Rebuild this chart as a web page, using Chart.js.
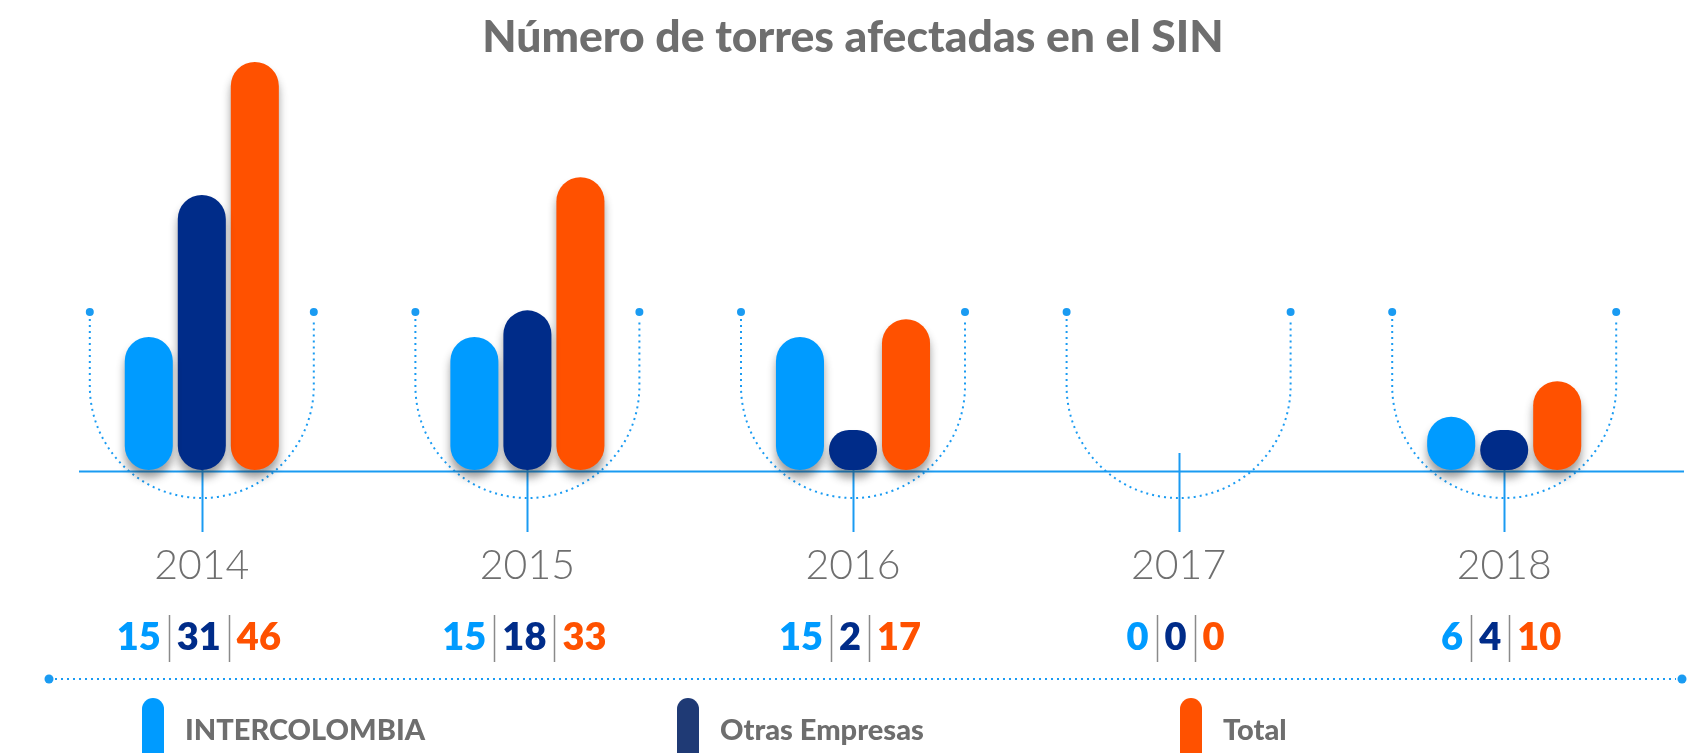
<!DOCTYPE html>
<html>
<head>
<meta charset="utf-8">
<title>Número de torres afectadas en el SIN</title>
<script src="https://cdn.jsdelivr.net/npm/chart.js@4.4.1/dist/chart.umd.min.js"></script>
<style>
  html, body { margin: 0; padding: 0; background: #ffffff; }
  #wrap { width: 1705px; height: 753px; position: relative; }
</style>
</head>
<body>
<div id="wrap"><canvas id="chart"></canvas></div>
<script>
// Towers affected per year, by company
const years = ['2014', '2015', '2016', '2017', '2018'];
const intercolombia = [15, 15, 15, 0, 6];
const otrasEmpresas = [31, 18, 2, 0, 4];
const total = [46, 33, 17, 0, 10];
const seriesNames = ['INTERCOLOMBIA', 'Otras Empresas', 'Total'];

const barColors = ['#009BFF', '#002C89', '#FF5100'];
const legendColors = ['#009BFF', '#1F3A75', '#FF5100'];
const lineBlue = '#1A9BF2';
const greyText = '#6E6E6E';

function hideZero(color) {
  return ctx => (ctx.raw === 0 ? 'rgba(0,0,0,0)' : color);
}

// Decorations: U-shaped dotted guides, axis line, ticks and the footer rule
const decorPlugin = {
  id: 'decor',
  beforeDatasetsDraw(chart) {
    const { ctx, chartArea, scales: { x, y } } = chart;
    const y0 = y.getPixelForValue(0);
    ctx.save();
    ctx.strokeStyle = lineBlue;
    ctx.fillStyle = lineBlue;

    // dotted U guides around each year group
    years.forEach((_, i) => {
      const cx = x.getPixelForValue(i);
      const r = 112, top = y0 - 158, cy = y0 - 84;
      ctx.lineWidth = 2;
      ctx.setLineDash([2, 4]);
      ctx.beginPath();
      ctx.moveTo(cx - r, top + 7);
      ctx.lineTo(cx - r, cy);
      ctx.arc(cx, cy, r, Math.PI, 0, true);
      ctx.lineTo(cx + r, top + 7);
      ctx.stroke();
      ctx.setLineDash([]);
      [cx - r, cx + r].forEach(px => {
        ctx.beginPath();
        ctx.arc(px, top, 4, 0, Math.PI * 2);
        ctx.fill();
      });
    });

    // baseline
    ctx.setLineDash([]);
    ctx.lineWidth = 2;
    ctx.beginPath();
    ctx.moveTo(chartArea.left + 40, y0 + 1.5);
    ctx.lineTo(chartArea.right + 17, y0 + 1.5);
    ctx.stroke();

    // tick marks under each year
    years.forEach((_, i) => {
      const cx = Math.round(x.getPixelForValue(i)) + 0.5;
      ctx.beginPath();
      ctx.moveTo(cx, y0 - 17);
      ctx.lineTo(cx, y0 + 62);
      ctx.stroke();
    });

    // footer dotted rule
    const fy = 679, fx0 = 49, fx1 = 1682;
    ctx.lineWidth = 2;
    ctx.setLineDash([2, 4]);
    ctx.beginPath();
    ctx.moveTo(fx0 + 6, fy);
    ctx.lineTo(fx1 - 6, fy);
    ctx.stroke();
    ctx.setLineDash([]);
    [fx0, fx1].forEach(px => {
      ctx.beginPath();
      ctx.arc(px, fy, 4.5, 0, Math.PI * 2);
      ctx.fill();
    });
    ctx.restore();

    // soft drop shadow under the bars
    ctx.save();
    ctx.shadowColor = 'rgba(40,40,40,0.45)';
    ctx.shadowBlur = 9;
    ctx.shadowOffsetY = 8;
  },
  afterDatasetsDraw(chart) {
    chart.ctx.restore();
  }
};

// Value rows "a | b | c" under each year, coloured per series
const valuesPlugin = {
  id: 'values',
  afterDraw(chart) {
    const { ctx, scales: { x } } = chart;
    const baseY = 650, gap = 8;
    ctx.save();
    ctx.font = '800 38px Lato';
    ctx.textBaseline = 'alphabetic';
    ctx.textAlign = 'left';
    years.forEach((_, i) => {
      const cx = x.getPixelForValue(i);
      const texts = chart.data.datasets.map(ds => String(ds.data[i]));
      const widths = texts.map(t => ctx.measureText(t).width);
      const totalW = widths.reduce((a, b) => a + b, 0) + gap * 4;
      let px = cx - totalW / 2 - 3;
      texts.forEach((t, k) => {
        ctx.fillStyle = barColors[k];
        ctx.fillText(t, px, baseY);
        px += widths[k];
        if (k < texts.length - 1) {
          px += gap;
          ctx.strokeStyle = '#8A8A8A';
          ctx.lineWidth = 1.5;
          ctx.beginPath();
          ctx.moveTo(Math.round(px) + 0.5, 615);
          ctx.lineTo(Math.round(px) + 0.5, 662);
          ctx.stroke();
          px += gap;
        }
      });
    });
    ctx.restore();
  }
};

// Legend with tall pill markers
const legendPlugin = {
  id: 'pillLegend',
  afterDraw(chart) {
    const { ctx } = chart;
    const starts = [142, 677, 1180];
    ctx.save();
    ctx.font = '900 29px Lato';
    ctx.textBaseline = 'alphabetic';
    ctx.textAlign = 'left';
    seriesNames.forEach((name, k) => {
      const sx = starts[k];
      ctx.fillStyle = legendColors[k];
      ctx.beginPath();
      ctx.roundRect(sx, 698, 22, 90, 11);
      ctx.fill();
      ctx.fillStyle = greyText;
      ctx.fillText(name, sx + 43, 740);
    });
    ctx.restore();
  }
};

const common = {
  borderRadius: 24,
  borderSkipped: false,
  minBarLength: 40,
  clip: false,
  categoryPercentage: 0.4885,
  barPercentage: 0.906
};

new Chart(document.getElementById('chart'), {
  type: 'bar',
  data: {
    labels: years,
    datasets: [
      Object.assign({ label: seriesNames[0], data: intercolombia, backgroundColor: hideZero(barColors[0]) }, common),
      Object.assign({ label: seriesNames[1], data: otrasEmpresas, backgroundColor: hideZero(barColors[1]) }, common),
      Object.assign({ label: seriesNames[2], data: total, backgroundColor: hideZero(barColors[2]) }, common)
    ]
  },
  options: {
    responsive: true,
    maintainAspectRatio: false,
    animation: false,
    layout: { padding: { left: 39, right: 38, top: 0, bottom: 0 } },
    plugins: {
      legend: { display: false },
      tooltip: { enabled: false },
      title: {
        display: true,
        text: 'Número de torres afectadas en el SIN',
        color: greyText,
        font: { family: 'Lato', weight: '900', size: 44.5, lineHeight: 1.1 },
        padding: { top: 13, bottom: 0 }
      }
    },
    scales: {
      x: {
        offset: true,
        grid: { display: false },
        border: { display: false },
        ticks: {
          color: '#6F6F6F',
          font: { family: 'Lato', weight: '300', size: 41 },
          padding: 63
        },
        afterFit(scale) { scale.height = 283; }
      },
      y: {
        display: false,
        min: 0,
        max: 46
      }
    }
  },
  plugins: [decorPlugin, valuesPlugin, legendPlugin]
});
</script>
</body>
</html>
